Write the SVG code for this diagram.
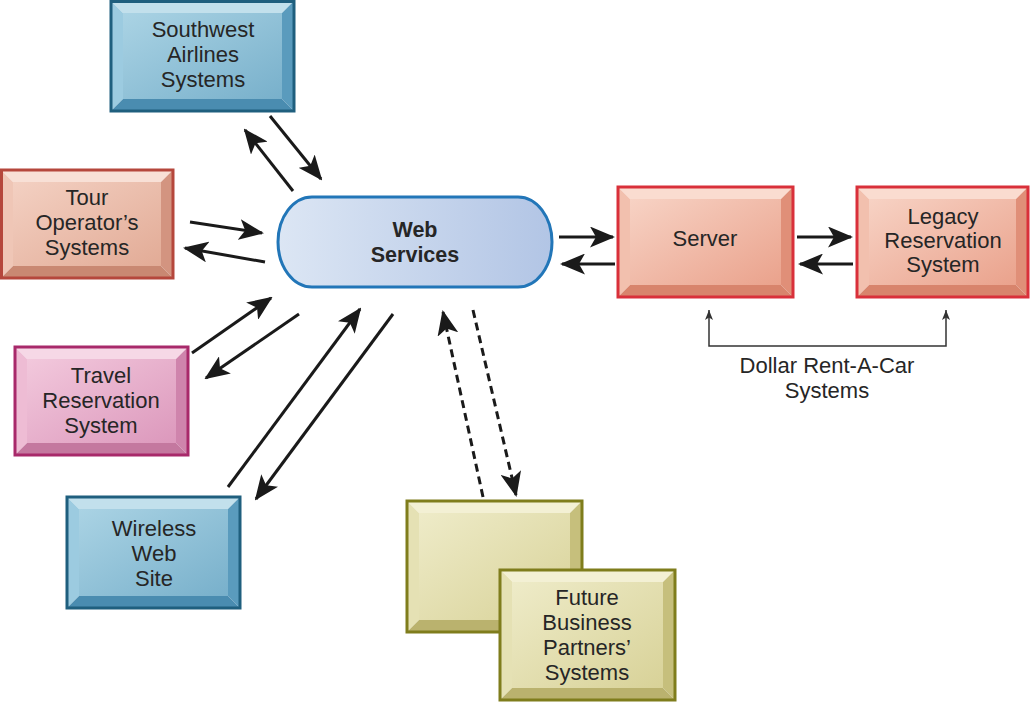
<svg xmlns="http://www.w3.org/2000/svg" width="1030" height="702" viewBox="0 0 1030 702">
<defs>
<style>
text{font-family:"Liberation Sans",Arial,sans-serif;font-size:22px;fill:#262626;text-anchor:middle}
.b text{font-weight:bold;font-size:21.5px}
.outline{fill:none;stroke-width:3}
.conn line,.conn polyline{stroke:#1a1a1a;fill:none}
.solid{stroke-width:3;marker-end:url(#ah)}
.dash{stroke-width:3;stroke-dasharray:8 5;marker-end:url(#ah)}
.blue .bt{fill:#c2e0ec}.blue .bl{fill:#9ccbe0}.blue .br{fill:#5a9bbd}.blue .bb{fill:#4a8cb0}.blue .face{fill:url(#gBlue)}.blue .outline{stroke:#1f5f7e}
.salmon .bt{fill:#f8e0d6}.salmon .bl{fill:#efc6b6}.salmon .br{fill:#d39480}.salmon .bb{fill:#c98872}.salmon .face{fill:url(#gSalmon)}.salmon .outline{stroke:#b5473c}
.red .bt{fill:#fadcd0}.red .bl{fill:#f2c0ae}.red .br{fill:#e08f78}.red .bb{fill:#d8846c}.red .face{fill:url(#gRed)}.red .outline{stroke:#d9303a}
.pink .bt{fill:#f6d8e6}.pink .bl{fill:#eebcd4}.pink .br{fill:#cf84ac}.pink .bb{fill:#c4789f}.pink .face{fill:url(#gPink)}.pink .outline{stroke:#a8296a}
.olive .bt{fill:#f3f0d4}.olive .bl{fill:#e5e1b4}.olive .br{fill:#c6bf7c}.olive .bb{fill:#bab26e}.olive .face{fill:url(#gOlive)}.olive .outline{stroke:#7f7d1c}
</style>
<linearGradient id="gBlue" x1="0" y1="0" x2="1" y2="1"><stop offset="0" stop-color="#aad3e4"/><stop offset="1" stop-color="#78b0cb"/></linearGradient>
<linearGradient id="gSalmon" x1="0" y1="0" x2="1" y2="1"><stop offset="0" stop-color="#f3d0c2"/><stop offset="1" stop-color="#e2ab96"/></linearGradient>
<linearGradient id="gRed" x1="0" y1="0" x2="1" y2="1"><stop offset="0" stop-color="#f7d2c4"/><stop offset="1" stop-color="#eaa28c"/></linearGradient>
<linearGradient id="gPink" x1="0" y1="0" x2="1" y2="1"><stop offset="0" stop-color="#f2c8dc"/><stop offset="1" stop-color="#dc98bc"/></linearGradient>
<linearGradient id="gOlive" x1="0" y1="0" x2="1" y2="1"><stop offset="0" stop-color="#eeebc8"/><stop offset="1" stop-color="#d8d298"/></linearGradient>
<linearGradient id="gWeb" x1="0" y1="0" x2="1" y2="0"><stop offset="0" stop-color="#dce6f4"/><stop offset="1" stop-color="#b2c5e5"/></linearGradient>
<marker id="ah" markerUnits="userSpaceOnUse" markerWidth="25" markerHeight="21" refX="23" refY="10.5" orient="auto"><path d="M0,0 L25,10.5 L0,21 L6,10.5 z" fill="#1a1a1a"/></marker>
<marker id="sh" markerUnits="userSpaceOnUse" markerWidth="10" markerHeight="8" refX="10" refY="4" orient="auto-start-reverse"><path d="M0,0 L10,4 L0,8 L2.5,4 z" fill="#333"/></marker>
</defs>
<rect width="1030" height="702" fill="#ffffff"/>

<g id="southwest" class="blue">
<polygon class="bt" points="111,1 294,1 282,13 123,13"/>
<polygon class="bl" points="111,1 123,13 123,99 111,111"/>
<polygon class="br" points="294,1 294,111 282,99 282,13"/>
<polygon class="bb" points="111,111 294,111 282,99 123,99"/>
<rect class="face" x="123" y="13" width="159" height="86"/>
<rect class="outline" x="111" y="1.5" width="183" height="109.5"/>
<text x="203" y="37">Southwest</text><text x="203" y="62">Airlines</text><text x="203" y="87">Systems</text>
</g>

<g id="tour" class="salmon">
<polygon class="bt" points="1,170 173,170 161,182 13,182"/>
<polygon class="bl" points="1,170 13,182 13,266 1,278"/>
<polygon class="br" points="173,170 173,278 161,266 161,182"/>
<polygon class="bb" points="1,278 173,278 161,266 13,266"/>
<rect class="face" x="13" y="182" width="148" height="84"/>
<rect class="outline" x="1.5" y="170" width="171.5" height="108"/>
<text x="87" y="205">Tour</text><text x="87" y="230">Operator’s</text><text x="87" y="255">Systems</text>
</g>

<g id="travel" class="pink">
<polygon class="bt" points="15,347 188,347 176,359 27,359"/>
<polygon class="bl" points="15,347 27,359 27,443 15,455"/>
<polygon class="br" points="188,347 188,455 176,443 176,359"/>
<polygon class="bb" points="15,455 188,455 176,443 27,443"/>
<rect class="face" x="27" y="359" width="149" height="84"/>
<rect class="outline" x="15" y="347" width="173" height="108"/>
<text x="101" y="383">Travel</text><text x="101" y="408">Reservation</text><text x="101" y="433">System</text>
</g>

<g id="wireless" class="blue">
<polygon class="bt" points="67,497 240,497 228,509 79,509"/>
<polygon class="bl" points="67,497 79,509 79,596 67,608"/>
<polygon class="br" points="240,497 240,608 228,596 228,509"/>
<polygon class="bb" points="67,608 240,608 228,596 79,596"/>
<rect class="face" x="79" y="509" width="149" height="87"/>
<rect class="outline" x="67" y="497" width="173" height="111"/>
<text x="154" y="536">Wireless</text><text x="154" y="561">Web</text><text x="154" y="586">Site</text>
</g>

<g id="webservices" class="b">
<rect x="278" y="197" width="274" height="90" rx="34" ry="45" fill="url(#gWeb)" stroke="#2276b8" stroke-width="3"/>
<text x="415" y="237">Web</text><text x="415" y="262">Services</text>
</g>

<g id="server" class="red">
<polygon class="bt" points="618,187 793,187 781,199 630,199"/>
<polygon class="bl" points="618,187 630,199 630,285 618,297"/>
<polygon class="br" points="793,187 793,297 781,285 781,199"/>
<polygon class="bb" points="618,297 793,297 781,285 630,285"/>
<rect class="face" x="630" y="199" width="151" height="86"/>
<rect class="outline" x="618" y="187" width="175" height="110"/>
<text x="705" y="246">Server</text>
</g>

<g id="legacy" class="red">
<polygon class="bt" points="857,187 1028,187 1016,199 869,199"/>
<polygon class="bl" points="857,187 869,199 869,285 857,297"/>
<polygon class="br" points="1028,187 1028,297 1016,285 1016,199"/>
<polygon class="bb" points="857,297 1028,297 1016,285 869,285"/>
<rect class="face" x="869" y="199" width="147" height="86"/>
<rect class="outline" x="857" y="187" width="171" height="110"/>
<text x="943" y="224">Legacy</text><text x="943" y="248">Reservation</text><text x="943" y="272">System</text>
</g>

<g id="future-back" class="olive">
<polygon class="bt" points="407,501 582,501 570,513 419,513"/>
<polygon class="bl" points="407,501 419,513 419,620 407,632"/>
<polygon class="br" points="582,501 582,632 570,620 570,513"/>
<polygon class="bb" points="407,632 582,632 570,620 419,620"/>
<rect class="face" x="419" y="513" width="151" height="107"/>
<rect class="outline" x="407" y="501" width="175" height="131"/>
</g>

<g id="future" class="olive">
<polygon class="bt" points="500,570 675,570 663,582 512,582"/>
<polygon class="bl" points="500,570 512,582 512,688 500,700"/>
<polygon class="br" points="675,570 675,700 663,688 663,582"/>
<polygon class="bb" points="500,700 675,700 663,688 512,688"/>
<rect class="face" x="512" y="582" width="151" height="106"/>
<rect class="outline" x="500" y="570" width="175" height="130"/>
<text x="587" y="605">Future</text><text x="587" y="630">Business</text><text x="587" y="655">Partners’</text><text x="587" y="680">Systems</text>
</g>

<g id="dollar-label">
<text x="827" y="373">Dollar Rent-A-Car</text><text x="827" y="398">Systems</text>
</g>

<g id="connectors" class="conn">
<line class="solid" x1="270" y1="116" x2="321" y2="179"/>
<line class="solid" x1="293" y1="191" x2="245" y2="130"/>
<line class="solid" x1="190" y1="222" x2="262" y2="233"/>
<line class="solid" x1="265" y1="262" x2="185" y2="248"/>
<line class="solid" x1="192" y1="353" x2="271" y2="298"/>
<line class="solid" x1="299" y1="314" x2="206" y2="378"/>
<line class="solid" x1="228" y1="487" x2="360" y2="309"/>
<line class="solid" x1="393" y1="314" x2="256" y2="499"/>
<line class="dash" x1="483" y1="497" x2="443" y2="312"/>
<line class="dash" x1="473" y1="310" x2="516" y2="495"/>
<line class="solid" x1="559" y1="237" x2="613" y2="237"/>
<line class="solid" x1="615" y1="264" x2="562" y2="264"/>
<line class="solid" x1="797" y1="237" x2="851" y2="237"/>
<line class="solid" x1="853" y1="264" x2="800" y2="264"/>
<polyline points="709,310 709,346 946,346 946,310" stroke-width="1.5" marker-start="url(#sh)" marker-end="url(#sh)" style="stroke:#333"/>
</g>
</svg>
